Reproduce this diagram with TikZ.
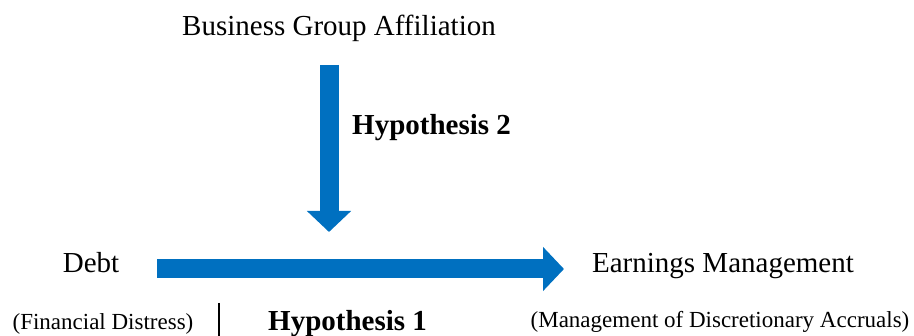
\documentclass[tikz,border=0pt]{standalone}
\usepackage{fontspec}
\setmainfont{Liberation Serif}
\usetikzlibrary{arrows.meta}
\definecolor{arrowblue}{RGB}{0,112,192}

\begin{document}
\begin{tikzpicture}[x=1pt,y=-1pt,
	txt/.style={inner sep=0pt,anchor=base,font=\fontsize{29}{34}\selectfont},
	subtxt/.style={inner sep=0pt,anchor=base,font=\fontsize{23}{28}\selectfont},
	hyp/.style={inner sep=0pt,anchor=base west,font=\fontsize{29}{34}\selectfont\bfseries},
	bigarrow/.style={line width=19pt,arrowblue,-{Triangle[width=43pt,length=21pt]}}]
\useasboundingbox (0,0) rectangle (914,336);
\node[txt] (bga) at (339,36) {Business Group Affiliation};
\node[txt] (debt) at (91,273) {Debt};
\node[txt] (em) at (723,273) {Earnings Management};
\node[subtxt] (fd) at (103,330) {(Financial Distress)};
\node[subtxt] (mda) at (720,328) {(Management of Discretionary Accruals)};
\node[hyp] (h2) at (352,135) {Hypothesis 2};
\node[hyp] (h1) at (268,331) {Hypothesis 1};
% moderating arrow and main arrow
\coordinate (vtop) at (329,65);
\coordinate (vtip) at (329,232);
\coordinate (hstart) at (157,269);
\coordinate (htip) at (564,269);
\draw[bigarrow] (vtop) -- (vtip);
\draw[bigarrow] (hstart) -- (htip);
% separator
\coordinate (septop) at (219,303);
\coordinate (sepbot) at (219,336);
\draw[line width=1.2pt] (septop) -- (sepbot);
\end{tikzpicture}
\end{document}
